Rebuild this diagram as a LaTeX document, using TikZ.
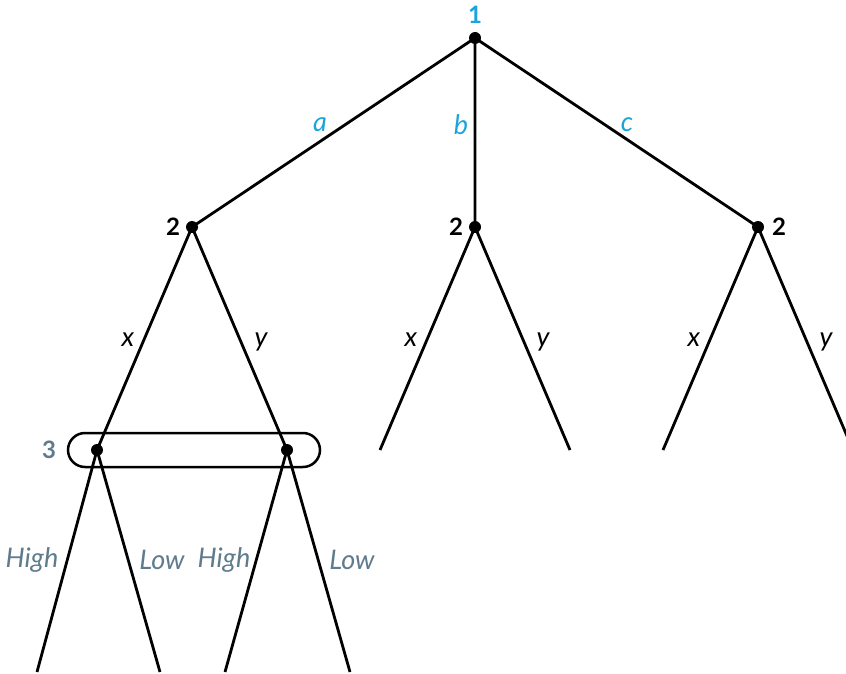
\documentclass[tikz,border=0pt]{standalone}
\usepackage{fontspec}
\setmainfont{Lato}
\definecolor{moveblue}{HTML}{1BA3DC}
\definecolor{infogray}{HTML}{5F7B8C}
\begin{document}
\begin{tikzpicture}[x=1pt, y=-1pt, line width=2.8pt,
  every node/.append style={font=\fontsize{27}{32}\selectfont, inner sep=0pt},
  mv/.style={font=\fontsize{27}{32}\selectfont\itshape},
  pl/.style={font=\fontsize{24}{28}\selectfont\bfseries}]
  \useasboundingbox (0,0) rectangle (846,674);
  \clip (0,0) rectangle (846,674);
  % decision points
  \coordinate (r) at (475,38);
  \coordinate (pa) at (192,227);
  \coordinate (pb) at (475,227);
  \coordinate (pc) at (758,227);
  \coordinate (qx) at (97,450);
  \coordinate (qy) at (287,450);
  % ends
  \coordinate (bx) at (380,450);
  \coordinate (by) at (570,450);
  \coordinate (cx) at (663,450);
  \coordinate (cy) at (853,450);
  \coordinate (xh) at (37,672);
  \coordinate (xl) at (160,672);
  \coordinate (yh) at (225,672);
  \coordinate (yl) at (350,672);
  % information set of player 3
  \draw[line width=2.5pt, rounded corners=17pt] (68,433) rectangle (320,467);
  \draw (r) -- (pa) (r) -- (pb) (r) -- (pc);
  \draw (pa) -- (qx) (pa) -- (qy);
  \draw (pb) -- (bx) (pb) -- (by);
  \draw (pc) -- (cx) (pc) -- (cy);
  \draw (qx) -- (xh) (qx) -- (xl);
  \draw (qy) -- (yh) (qy) -- (yl);
  \foreach \p in {r,pa,pb,pc,qx,qy}
    \fill (\p) circle (6pt);
  % players
  \node[pl, text=moveblue] (l1) at (475,15) {1};
  \node[pl] (l2a) at (173,227) {2};
  \node[pl] (l2b) at (456,227) {2};
  \node[pl] (l2c) at (779,227) {2};
  \node[pl, text=infogray] (l3) at (49,450) {3};
  % moves
  \node[mv, text=moveblue] (ma) at (320,125) {a};
  \node[mv, text=moveblue] (mb) at (461,125) {b};
  \node[mv, text=moveblue] (mc) at (627,125) {c};
  \node[mv] (mx1) at (128,340) {x};
  \node[mv] (my1) at (261,342) {y};
  \node[mv] (mx2) at (411,340) {x};
  \node[mv] (my2) at (543,342) {y};
  \node[mv] (mx3) at (694,340) {x};
  \node[mv] (my3) at (826,342) {y};
  \node[mv, text=infogray] (h1) at (32,560) {High};
  \node[mv, text=infogray] (w1) at (162,560) {Low};
  \node[mv, text=infogray] (h2) at (224,560) {High};
  \node[mv, text=infogray] (w2) at (352,560) {Low};
\end{tikzpicture}
\end{document}
